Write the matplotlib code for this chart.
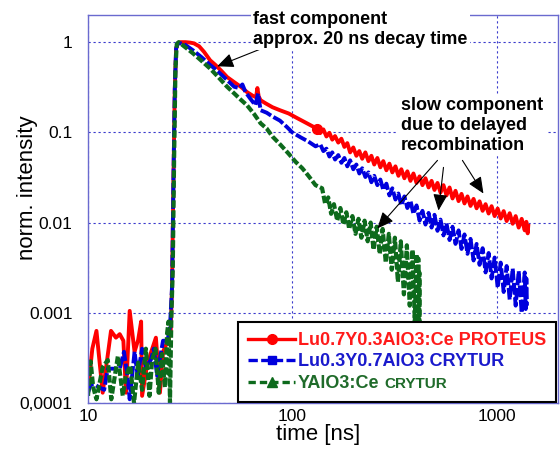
import matplotlib
matplotlib.use("Agg")
import matplotlib.pyplot as plt
from matplotlib.lines import Line2D
from matplotlib.ticker import FixedLocator, FixedFormatter, NullLocator

plt.rcParams["font.family"] = ["Liberation Sans", "DejaVu Sans"]

# values (time in ns, normalised intensity)
red_t = [10, 10.5, 11.0, 11.8, 12.4, 12.96, 13.7, 14.3, 14.9, 15.35, 16.0, 16.9, 17.6, 18.2,
         18.4, 19.4, 20.4, 21.5, 22.5, 23.3, 24.6, 25.4, 25.8, 26.2, 26.6, 27.0, 27.6, 28.5,
         30, 31.5, 33, 35, 37, 39.6, 42, 45, 48, 52, 56, 60, 64, 66.5, 67.5, 68.5, 70, 74, 80,
         87, 96, 105, 115, 132,
         137, 142, 147, 152, 157, 162, 168, 174, 180, 186, 192, 199, 206, 213, 220, 228, 236,
         244, 252, 261, 270, 279, 289, 299, 309, 320, 331, 342, 354, 366, 379, 392, 406, 420,
         434, 449, 465, 481, 497, 514, 532, 550, 569, 589, 609, 630, 652, 674, 697, 721, 746,
         772, 799, 826, 855, 884, 915, 946, 979, 1013, 1048, 1084, 1121, 1160, 1200, 1241,
         1284, 1328, 1374, 1400, 1421, 1430]
red_v = [1.4e-4, 4e-4, 6.3e-4, 1.3e-4, 3e-4, 6.3e-4, 5.3e-4, 5.8e-4, 4.9e-4, 1.3e-4, 1.05e-3,
         3.7e-4, 5e-4, 8e-4, 1.2e-4, 2.5e-4, 3.7e-4, 5.3e-4, 1.3e-4, 3.7e-4, 4.9e-4, 6e-4, 2e-3,
         0.03, 0.3, 0.85, 0.98, 1.0, 1.0, 0.99, 0.97, 0.9, 0.78, 0.63, 0.56, 0.48, 0.41, 0.36,
         0.32, 0.28, 0.255, 0.245, 0.31, 0.25, 0.227, 0.21, 0.19, 0.176, 0.162, 0.145, 0.13, 0.11,
         0.098, 0.108, 0.090, 0.099, 0.083, 0.091, 0.077, 0.085, 0.069, 0.076, 0.060, 0.068,
         0.055, 0.062, 0.051, 0.060, 0.048, 0.055, 0.044, 0.052, 0.041, 0.048, 0.038, 0.045,
         0.036, 0.042, 0.033, 0.039, 0.031, 0.037, 0.029, 0.035, 0.0275, 0.0325, 0.026, 0.031,
         0.0245, 0.029, 0.023, 0.0275, 0.0215, 0.026, 0.020, 0.0245, 0.0185, 0.0225, 0.0173,
         0.0208, 0.0163, 0.0195, 0.0153, 0.0183, 0.0144, 0.0172, 0.0135, 0.0160, 0.0126,
         0.0152, 0.0118, 0.0143, 0.0111, 0.0134, 0.0104, 0.0127, 0.0097, 0.0118, 0.0088,
         0.0110, 0.0082, 0.0102, 0.0076, 0.0092]

blue_t = [10, 10.3, 10.8, 11.3, 12, 12.5, 13.2, 14.3, 15.0, 15.6, 16.0, 16.9, 17.5, 18.4, 19.2,
          20.3, 21, 21.8, 22.6, 23.3, 24.5, 25.2, 25.8, 26.2, 26.6, 27.0, 27.6, 28.5, 30, 32.7,
          36, 39.6, 43, 48, 52, 55, 57, 59, 62, 66, 68, 70, 75, 80, 87, 94, 100, 110, 120, 130,
          137, 142, 147, 152, 157, 162, 168, 174, 180, 186, 192, 199, 206, 213, 220, 228, 236,
          244, 252, 261, 270, 279, 289, 299, 309, 320, 331, 342, 354, 366, 379, 392, 406, 420,
          434, 449, 465, 481, 497, 514, 532, 550, 569, 589, 609, 630, 652, 674, 697, 721, 746,
          772, 799, 826, 855, 884, 915, 946, 979, 1013, 1048, 1084, 1121, 1160, 1200, 1241,
          1284, 1328, 1374, 1390, 1400, 1410]
blue_v = [1.3e-4, 1.6e-4, 1.6e-4, 1.5e-4, 1.4e-4, 2.4e-4, 2.4e-4, 2.4e-4, 3.7e-4, 2.0e-4,
          1.1e-4, 3.7e-4, 2e-4, 4e-4, 2.5e-4, 3e-4, 4e-4, 2e-4, 3.3e-4, 4.9e-4, 4.9e-4, 7e-4,
          2e-3, 0.03, 0.3, 0.85, 0.98, 0.97, 0.93, 0.81, 0.68, 0.56, 0.48, 0.38, 0.32, 0.31,
          0.34, 0.28, 0.24, 0.2, 0.27, 0.176, 0.165, 0.15, 0.135, 0.115, 0.1, 0.088, 0.079, 0.07,
          0.074, 0.062, 0.066, 0.054, 0.060, 0.050, 0.056, 0.046, 0.052, 0.042, 0.049, 0.039,
          0.044, 0.035, 0.040, 0.032, 0.036, 0.028, 0.033, 0.026, 0.030, 0.023, 0.027, 0.020,
          0.024, 0.018, 0.021, 0.0155, 0.0195, 0.0145, 0.0175, 0.0125, 0.0155, 0.0105, 0.0135,
          0.0095, 0.0128, 0.0088, 0.0122, 0.0081, 0.0108, 0.0072, 0.0098, 0.0064, 0.0090,
          0.0058, 0.0082, 0.0051, 0.0074, 0.0045, 0.0066, 0.0038, 0.0058, 0.0034, 0.0052,
          0.0028, 0.0046, 0.0024, 0.0041, 0.0019, 0.0036, 0.0017, 0.0033, 0.0014, 0.0031,
          0.0012, 0.0029, 0.0010, 0.0028, 0.0011, 0.0024, 0.0012]

green_t = [10, 10.3, 10.6, 11.0, 11.8, 12.5, 13.0, 14.0, 14.8, 15.3, 16.1, 16.8, 17.6, 18.4,
           19.2, 20.0, 20.6, 21.4, 22.2, 23.0, 23.8, 24.4, 24.8, 25.2, 25.6, 26.0, 26.4, 26.8,
           27.2, 27.8, 29, 30.5, 32.7, 36, 39.6, 43, 48, 52, 56, 60, 65, 70, 75, 80, 88, 96,
           104, 112, 120, 130,
           140, 145, 150, 155, 160, 166, 172, 178, 184, 190, 197, 204, 211, 218, 226, 234, 242,
           250, 259, 268, 277, 287, 297, 307, 318, 329, 340, 352, 364, 376, 388, 398, 405, 410,
           414, 417, 419, 421]
green_v = [1.2e-4, 2.9e-4, 1.5e-4, 1.1e-4, 2.5e-4, 3e-4, 1.1e-4, 3.3e-4, 1.2e-4, 2e-4, 2.6e-4,
           1e-4, 2.8e-4, 1.4e-4, 4e-4, 1.2e-4, 3e-4, 4e-4, 1.3e-4, 3.5e-4, 1.5e-4, 6e-4, 8e-4,
           1.0e-4, 9e-4, 3e-3, 0.05, 0.5, 0.95, 1.0, 0.93, 0.85, 0.75, 0.62, 0.51, 0.42, 0.32,
           0.27, 0.23, 0.2, 0.16, 0.126, 0.11, 0.09, 0.072, 0.058, 0.047, 0.04, 0.033, 0.026,
           0.024, 0.016, 0.019, 0.0125, 0.016, 0.0105, 0.0145, 0.0095, 0.013, 0.0085, 0.0118,
           0.0075, 0.0110, 0.0068, 0.0105, 0.0062, 0.0100, 0.0050, 0.0090, 0.0045, 0.0085,
           0.0036, 0.0075, 0.0030, 0.0068, 0.0022, 0.0062, 0.0016, 0.0056, 0.0012, 0.0050,
           0.0008, 0.0045, 0.0004, 0.0040, 0.00018, 0.0028, 0.0001]

labels = ["Lu0.7Y0.3AlO3:Ce PROTEUS", "Lu0.3Y0.7AlO3 CRYTUR", "YAlO3:Ce"]
green_suffix = "CRYTUR"
y_ticks = [1e-4, 1e-3, 1e-2, 1e-1, 1]
y_ticklabels = ["0,0001", "0.001", "0.01", "0.1", "1"]
x_ticks = [10, 100, 1000]
x_ticklabels = ["10", "100", "1000"]

RED = "#ff0000"
BLUE = "#0000dd"
GREEN = "#0d6a1c"
FRAME = "#6a6acf"
BLUE_DASH = (0, (3.0, 0.7))
GREEN_DASH = (0, (1.8, 0.6))

W, H = 560, 454
fig = plt.figure(figsize=(W / 100, H / 100), dpi=100)
ax = fig.add_axes([88 / W, 1 - 403 / H, 470 / W, 388 / H])
ax.set_xscale("log")
ax.set_yscale("log")

ax.plot(red_t, red_v, color=RED, lw=2.8, marker="o", ms=7,
        markevery=[red_t.index(132)])
ax.plot(blue_t, blue_v, color=BLUE, lw=2.8, linestyle=BLUE_DASH)
ax.plot(green_t, green_v, color=GREEN, lw=3.0, linestyle=GREEN_DASH)

ax.set_xlim(10, 2000)
ax.set_ylim(1e-4, 2)

ax.xaxis.set_major_locator(FixedLocator(x_ticks))
ax.xaxis.set_major_formatter(FixedFormatter(x_ticklabels))
ax.xaxis.set_minor_locator(NullLocator())
ax.yaxis.set_major_locator(FixedLocator(y_ticks))
ax.yaxis.set_major_formatter(FixedFormatter(y_ticklabels))
ax.yaxis.set_minor_locator(NullLocator())
ax.tick_params(axis="both", length=0, labelsize=12.5)
ax.tick_params(axis="y", pad=11)
ax.tick_params(axis="x", pad=4.6)

ax.grid(True, color="#3a3acc", lw=0.8, linestyle=(0, (2, 2.5)))
for s in ax.spines.values():
    s.set_color(FRAME)
    s.set_linewidth(1.0)

ax.set_xlabel("time [ns]", fontsize=16)
ax.set_ylabel("norm. intensity", fontsize=16)
ax.xaxis.set_label_coords(0.489, -0.054)
ax.yaxis.set_label_coords(-0.106, 0.554)

handles = [
    Line2D([], [], color=RED, lw=2.4, marker="o", ms=7),
    Line2D([], [], color=BLUE, lw=2.4, linestyle=(0, (2.8, 1.0)), marker="s", ms=6),
    Line2D([], [], color=GREEN, lw=2.4, linestyle=(0, (2.2, 1.2)), marker="^", ms=7),
]
leg = ax.legend(handles, labels, loc="lower right", bbox_to_anchor=(0.996, 0.003),
                borderaxespad=0, fancybox=False, framealpha=1, edgecolor="black",
                prop={"size": 13, "weight": "bold"}, handlelength=2.6,
                handletextpad=0.15, labelspacing=0.25, borderpad=0.55, numpoints=1)
leg.get_frame().set_linewidth(1.5)
for txt, col in zip(leg.get_texts(), ["#ff1a1a", "#1a1acc", "#1f6b2a"]):
    txt.set_color(col)

# smaller "CRYTUR" after the green label
fig.canvas.draw()
bb = leg.get_texts()[2].get_window_extent()
fig.text((bb.x1 + 5) / W, (bb.y0 + 0.5) / H, green_suffix, fontsize=11, fontweight="bold",
         color="#1f6b2a", ha="left", va="bottom", zorder=10)

# annotations
fig.text(253 / W, 1 - 10.5 / H, "fast component\napprox. 20 ns decay time",
         fontsize=13, fontweight="bold", ha="left", va="top", linespacing=1.25,
         bbox=dict(facecolor="white", edgecolor="none", pad=1.5))
fig.text(401 / W, 1 - 97 / H, "slow component\ndue to delayed\nrecombination",
         fontsize=13, fontweight="bold", ha="left", va="top", linespacing=1.22,
         bbox=dict(facecolor="white", edgecolor="none", pad=2))

arrow = dict(arrowstyle="-|>,head_length=0.5,head_width=0.22", color="black", lw=0.8,
             mutation_scale=20, shrinkA=0, shrinkB=0)
ax.annotate("", xy=(42.9, 0.54), xytext=(82.6, 0.975), arrowprops=arrow)
ax.annotate("", xy=(261, 0.0086), xytext=(514, 0.0489), arrowprops=arrow)
ax.annotate("", xy=(520, 0.0136), xytext=(550, 0.0409), arrowprops=arrow)
ax.annotate("", xy=(863, 0.021), xytext=(681, 0.0489), arrowprops=arrow)

fig.savefig("out.png", dpi=100)
